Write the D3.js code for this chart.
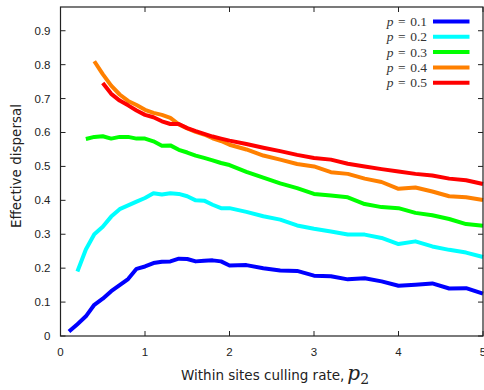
<!DOCTYPE html>
<html><head><meta charset="utf-8">
<script src="https://cdn.jsdelivr.net/npm/d3@7"></script>
<style>body{margin:0;background:#fff}svg{display:block}</style>
</head><body>
<script>
const xGrid = [0.1,0.2,0.3,0.4,0.5,0.6,0.7,0.8,0.9,1.0,1.1,1.2,1.3,1.4,1.5,1.6,1.7,1.8,1.9,2.0,
  2.2,2.4,2.6,2.8,3.0,3.2,3.4,3.6,3.8,4.0,4.2,4.4,4.6,4.8,5.0];
const p01 = [0.013,0.035,0.058,0.092,0.110,0.132,0.150,0.168,0.198,0.205,0.215,0.219,0.220,0.228,0.227,0.220,0.222,0.223,0.220,0.208,
  0.209,0.200,0.193,0.192,0.178,0.176,0.167,0.170,0.161,0.148,0.151,0.155,0.140,0.141,0.125];
const p02 = [null,0.190,0.255,0.300,0.322,0.352,0.374,0.385,0.396,0.407,0.421,0.417,0.421,0.419,0.412,0.400,0.399,0.387,0.377,0.377,
  0.366,0.353,0.343,0.326,0.316,0.308,0.299,0.299,0.289,0.271,0.279,0.264,0.254,0.246,0.233];
const p03 = [null,null,0.581,0.587,0.589,0.582,0.587,0.587,0.582,0.582,0.574,0.561,0.562,0.549,0.541,0.532,0.525,0.518,0.510,0.504,
  0.484,0.467,0.450,0.436,0.419,0.414,0.409,0.389,0.380,0.377,0.363,0.356,0.345,0.330,0.325];
const p04 = [null,null,null,0.810,0.772,0.738,0.712,0.693,0.681,0.667,0.658,0.652,0.643,0.624,0.612,0.602,0.594,0.583,0.575,0.564,
  0.550,0.532,0.520,0.507,0.500,0.483,0.478,0.464,0.454,0.434,0.438,0.426,0.412,0.409,0.401];
const p05 = [null,null,null,null,0.746,0.714,0.694,0.680,0.665,0.652,0.645,0.633,0.625,0.625,0.613,0.604,0.596,0.588,0.582,0.576,
  0.566,0.555,0.545,0.534,0.525,0.520,0.508,0.500,0.492,0.485,0.478,0.473,0.464,0.459,0.448];
const seriesNames = ["0.1","0.2","0.3","0.4","0.5"];
const seriesColors = ["#0000ff","#00ffff","#00ff00","#ff8000","#ff0000"];
const xTicks = [0,1,2,3,4,5];
const yTicks = [0,0.1,0.2,0.3,0.4,0.5,0.6,0.7,0.8,0.9];
const yLabel = "Effective dispersal";
const xLabel = "Within sites culling rate,";

const W = 484, H = 390;
const L = 60.5, R = 483, T = 7, B = 336;
const svg = d3.select("body").append("svg").attr("width", W).attr("height", H);
const x = d3.scaleLinear().domain([0,5]).range([L,R]);
const y = d3.scaleLinear().domain([0,0.97]).range([B,T]);

// ticks (inward, mirrored)
const tk = 5;
const g = svg.append("g").attr("stroke","#222").attr("stroke-width",1);
xTicks.forEach(v=>{
  g.append("line").attr("x1",x(v)).attr("x2",x(v)).attr("y1",B).attr("y2",B-tk);
  g.append("line").attr("x1",x(v)).attr("x2",x(v)).attr("y1",T).attr("y2",T+tk);
});
yTicks.forEach(v=>{
  g.append("line").attr("x1",L).attr("x2",L+tk).attr("y1",y(v)).attr("y2",y(v));
  g.append("line").attr("x1",R).attr("x2",R-tk).attr("y1",y(v)).attr("y2",y(v));
});

// tick labels
const lab = svg.append("g").attr("font-family","'Liberation Sans', Arial, sans-serif").attr("font-size",11.5).attr("fill","#222");
xTicks.forEach(v=>{
  lab.append("text").attr("x",x(v)).attr("y",356).attr("text-anchor","middle").text(d3.format("d")(v));
});
yTicks.forEach(v=>{
  lab.append("text").attr("x",L-10).attr("y",y(v)+4).attr("text-anchor","end").text(v===0?"0":d3.format(".1f")(v));
});

// axis titles
svg.append("text").attr("transform","translate(21,166) rotate(-90)").attr("text-anchor","middle")
  .attr("font-family","'DejaVu Sans', sans-serif").attr("font-size",13.5).attr("fill","#222").text(yLabel);
const xt = svg.append("text").attr("x",181).attr("y",380).attr("font-family","'DejaVu Sans', sans-serif")
  .attr("font-size",13.5).attr("fill","#222");
xt.append("tspan").text(xLabel);
xt.append("tspan").attr("dx",3).attr("font-family","'DejaVu Serif', serif").attr("font-style","italic").attr("font-size",20).text("p");
xt.append("tspan").attr("dy",4).attr("font-family","'DejaVu Serif', serif").attr("font-size",14).text("2");

// lines
const allSeries = [p01,p02,p03,p04,p05];
const line = d3.line().defined(d=>d[1]!==null).x(d=>x(d[0])).y(d=>y(d[1]));
allSeries.forEach((s,i)=>{
  const pts = xGrid.map((xv,j)=>[xv,s[j]]);
  svg.append("path").attr("d",line(pts)).attr("fill","none").attr("stroke",seriesColors[i])
    .attr("stroke-width",4).attr("stroke-linejoin","round").attr("stroke-linecap","butt");
});

// frame
svg.append("rect").attr("x",L).attr("y",T).attr("width",R-L).attr("height",B-T)
  .attr("fill","none").attr("stroke","#222").attr("stroke-width",1.2);

// legend
const leg = svg.append("g");
seriesNames.forEach((n,i)=>{
  const yy = 21.5 + i*15.3;
  const t = leg.append("text").attr("x",427).attr("y",yy+4.5).attr("text-anchor","end")
    .attr("font-family","'Liberation Serif', 'DejaVu Serif', serif").attr("font-size",13.5).attr("fill","#333");
  t.append("tspan").attr("font-style","italic").text("p");
  t.append("tspan").attr("dx",4.5).text("=");
  t.append("tspan").attr("dx",4.5).text(n);
  leg.append("line").attr("x1",433).attr("x2",469.5).attr("y1",yy).attr("y2",yy)
    .attr("stroke",seriesColors[i]).attr("stroke-width",4);
});
</script>
</body></html>
